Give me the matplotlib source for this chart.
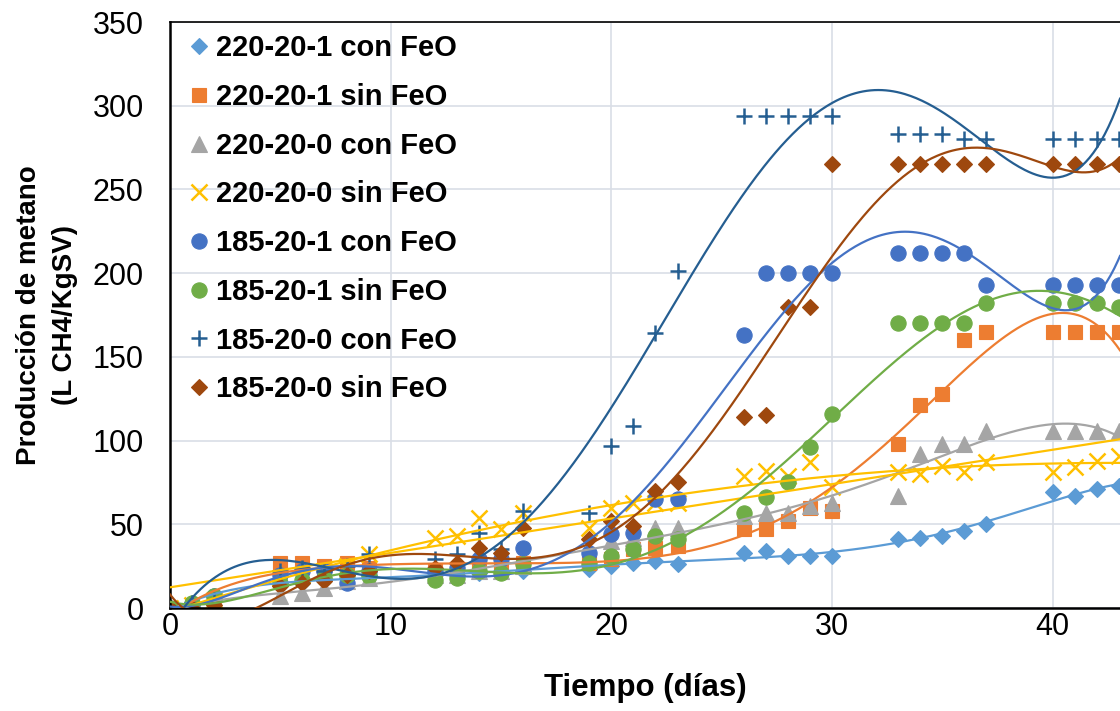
import matplotlib
matplotlib.use("Agg")
import matplotlib.pyplot as plt
import numpy as np
from numpy.polynomial import Polynomial

plt.rcParams['font.family'] = ['Liberation Sans', 'DejaVu Sans']

# Sampling days
days = [0, 1, 2, 5, 6, 7, 8, 9, 12, 13, 14, 15, 16, 19, 20, 21, 22, 23,
        26, 27, 28, 29, 30, 33, 34, 35, 36, 37, 40, 41, 42, 43]

# Cumulative methane yield (L CH4/KgSV) per reactor
r220_20_1_con = [0, 3, 7, 15, 15, 17, 18, 20, 20, 20, 21, 22, 22, 23, 25, 27, 28, 26,
                 33, 34, 31, 31, 31, 41, 42, 43, 46, 50, 69, 67, 71, 73]
r220_20_1_sin = [0, 0, 3, 27, 27, 25, 27, 24, 22, 23, 25, 24, 27, 27, 29, 35, 36, 37,
                 47, 47, 52, 60, 58, 98, 121, 128, 160, 165, 165, 165, 165, 165]
r220_20_0_con = [0, 0, 3, 7, 9, 12, 16, 18, 20, 20, 22, 22, 25, 30, 40, 42, 48, 48,
                 55, 57, 57, 61, 63, 67, 92, 98, 98, 106, 106, 106, 106, 106]
r220_20_0_sin = [0, 2, 5, 18, 20, 22, 25, 32, 42, 43, 54, 47, 57, 48, 60, 63, 63, 63,
                 79, 82, 79, 87, 72, 81, 80, 85, 81, 87, 81, 84, 88, 91]
r185_20_1_con = [0, 2, 7, 20, 22, 22, 15, 22, 22, 24, 29, 29, 36, 33, 44, 45, 65, 65,
                 163, 200, 200, 200, 200, 212, 212, 212, 212, 193, 193, 193, 193, 193]
r185_20_1_sin = [0, 3, 7, 15, 17, 18, 20, 19, 17, 18, 22, 21, 26, 27, 31, 35, 43, 41,
                 57, 66, 75, 96, 116, 170, 170, 170, 170, 182, 182, 182, 182, 180]
r185_20_0_con = [0, 3, 5, 22, 24, 22, 25, 32, 29, 32, 45, 35, 58, 57, 97, 109, 164, 201,
                 294, 294, 294, 294, 294, 283, 283, 283, 280, 280, 280, 280, 280, 280]
r185_20_0_sin = [0, 0, 2, 13, 15, 16, 20, 22, 24, 27, 36, 33, 48, 41, 52, 49, 70, 75,
                 114, 115, 180, 180, 265, 265, 265, 265, 265, 265, 265, 265, 265, 265]

labels = ["220-20-1 con FeO", "220-20-1 sin FeO", "220-20-0 con FeO", "220-20-0 sin FeO",
          "185-20-1 con FeO", "185-20-1 sin FeO", "185-20-0 con FeO", "185-20-0 sin FeO"]
series = [r220_20_1_con, r220_20_1_sin, r220_20_0_con, r220_20_0_sin,
          r185_20_1_con, r185_20_1_sin, r185_20_0_con, r185_20_0_sin]
colors = ["#5B9BD5", "#ED7D31", "#A5A5A5", "#FFC000",
          "#4472C4", "#70AD47", "#255E91", "#9E480E"]
markers = ["D", "s", "^", "x", "o", "o", "+", "D"]
msizes = [8, 10, 11, 11, 11, 11, 12, 8]
# trendline orders per series (220-20-0 sin FeO: linear and quadratic trendlines)
trend_orders = [[6], [6], [6], [1, 2], [6], [6], [6], [6]]

fig = plt.figure(figsize=(11.2, 7.11), dpi=100)
ax = fig.add_axes([170 / 1120, 1 - 608 / 711, 1 - 170 / 1120, (608 - 22) / 711])

x_max = 43.05
xs = np.linspace(0, x_max, 500)
handles = []
for vals, lab, col, mk, ms, orders in zip(series, labels, colors, markers, msizes,
                                          trend_orders):
    h, = ax.plot(days, vals, linestyle="none", marker=mk, ms=ms, color=col,
                 mec=col, mew=1.8 if mk in ("x", "+") else 0.8, zorder=2, label=lab)
    handles.append(h)
    # polynomial trendlines
    for order in orders:
        fit = Polynomial.fit(days, vals, order)
        ax.plot(xs, fit(xs), color=col, lw=1.6, zorder=3)

ax.set_xlim(0, x_max)
ax.set_ylim(0, 350)
ax.set_xticks([0, 10, 20, 30, 40])
ax.set_yticks(np.arange(0, 351, 50))
ax.tick_params(length=0, labelsize=22)
ax.tick_params(axis="y", pad=19)
ax.tick_params(axis="x", pad=3)

ax.grid(True, color="#D9DEE6", lw=1.2)
ax.set_axisbelow(True)
for side in ("left", "bottom"):
    ax.spines[side].set_color("black")
    ax.spines[side].set_linewidth(1.8)
ax.spines["top"].set_color("black")
ax.spines["top"].set_linewidth(1.2)
ax.spines["right"].set_visible(False)

ax.set_xlabel("Tiempo (días)", fontsize=22.5, fontweight="bold")
ax.xaxis.label.set_va("center")
ax.xaxis.set_label_coords(0.5, -(688 - 608) / 586)

ax.set_ylabel("Producción de metano\n(L CH4/KgSV)", fontsize=20, fontweight="bold",
              linespacing=1.5)
ax.yaxis.label.set_va("center")
ax.yaxis.label.set_ha("center")
ax.yaxis.set_label_coords((47 - 170) / 950, 0.5)

leg = ax.legend(handles=handles, loc="upper left", bbox_to_anchor=(0.024, 0.979),
                frameon=False, borderaxespad=0, borderpad=0, handlelength=0.45,
                handletextpad=0.35, labelspacing=0.71,
                prop={"size": 21, "weight": "bold"})

fig.savefig("out.png", dpi=100)
